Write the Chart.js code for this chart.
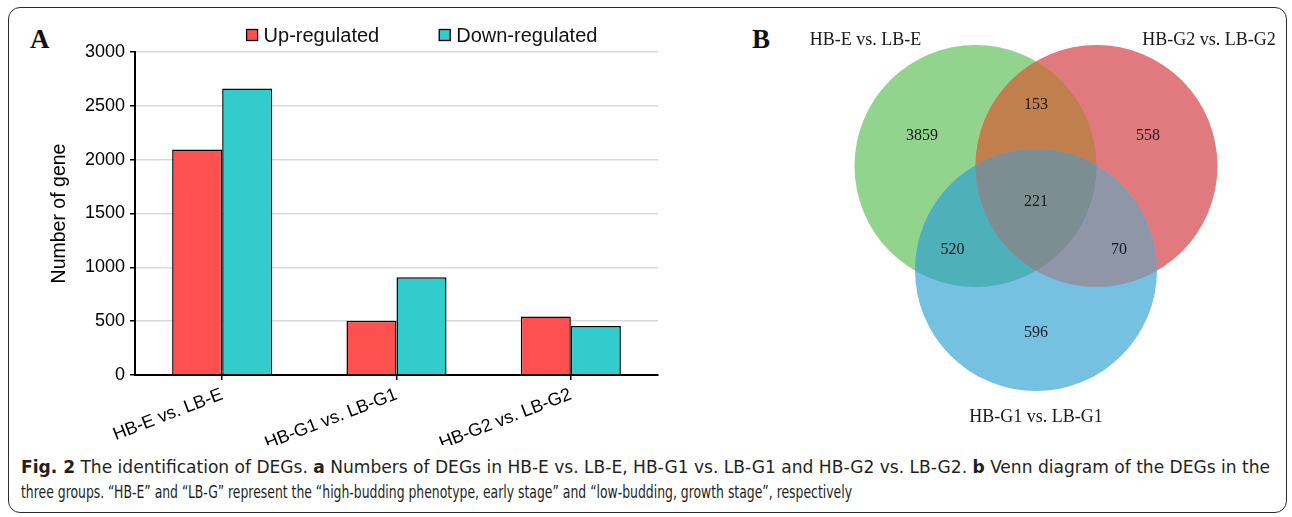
<!DOCTYPE html>
<html>
<head>
<meta charset="utf-8">
<script src="https://cdn.jsdelivr.net/npm/chart.js@4.4.1/dist/chart.umd.min.js"></script>
<style>
  html, body { margin: 0; padding: 0; background: #fff; width: 1292px; height: 517px; overflow: hidden; }
  #frame { position: absolute; left: 8px; top: 7px; width: 1279px; height: 506px; border: 1.5px solid #2b2b2b; border-radius: 12px; box-sizing: border-box; }
  #barBox { position: absolute; left: 0; top: 0; width: 700px; height: 445px; }
  #vennBox { position: absolute; left: 794px; top: 18px; width: 484px; height: 420px; }
  .panel { position: absolute; font: bold 27px "Liberation Serif", "Times New Roman", serif; color: #111; line-height: 1; }
  #caption { position: absolute; left: 21px; top: 455px; font-size: 17px; font-family: "DejaVu Sans Condensed", "Liberation Sans", sans-serif; color: #231f20; line-height: 25px; }
  #caption .line { white-space: nowrap; transform-origin: 0 50%; }
  #caption .line span { display: inline-block; }
</style>
</head>
<body>
<div id="frame"></div>
<div class="panel" style="left:30px;top:26px">A</div>
<div class="panel" style="left:752px;top:26px">B</div>
<div id="barBox"><canvas id="bar"></canvas></div>
<div id="vennBox"><canvas id="venn"></canvas></div>
<div id="caption">
  <div class="line" data-w="1249"><span><b>Fig. 2</b> The identification of DEGs. <b>a</b> Numbers of DEGs in HB-E vs. LB-E, HB-G1 vs. LB-G1 and HB-G2 vs. LB-G2. <b>b</b> Venn diagram of the DEGs in the</span></div>
  <div class="line" data-w="831"><span>three groups. “HB-E” and “LB-G” represent the “high-budding phenotype, early stage” and “low-budding, growth stage”, respectively</span></div>
</div>

<script>
// ---- panel A: bar data ----
const groups = ["HB-E vs. LB-E", "HB-G1 vs. LB-G1", "HB-G2 vs. LB-G2"];
const seriesNames = ["Up-regulated", "Down-regulated"];
const upRegulated = [2094, 503, 544];
const downRegulated = [2662, 909, 456];
const yMax = 3000;
const yStep = 500;

// ---- panel B: venn data ----
const vennSets = ["HB-E vs. LB-E", "HB-G2 vs. LB-G2", "HB-G1 vs. LB-G1"];
const vennOnly = [3859, 558, 596];        // only E, only G2, only G1
const vennPairs = [153, 520, 70];          // E&G2, E&G1, G2&G1
const vennAll = [221];

// layout for the venn (unit = circle radius)
const CIRCLES = [{ x: -0.5, y: 0.43 }, { x: 0.5, y: 0.43 }, { x: 0, y: -0.43 }];
const PAIRS = [[0, 1], [0, 2], [1, 2]];
const SET_LABEL_POS = [[-1.41, 1.47], [1.43, 1.47], [0, -1.645]];
const ONLY_POS = [[-0.942, 0.678], [0.926, 0.678], [0, -0.95]];
const PAIR_POS = [[0, 0.934], [-0.69, -0.264], [0.686, -0.264]];
const ALL_POS = [0, 0.132];

const SANS = '"Liberation Sans", Arial, sans-serif';
const SERIF = '"Liberation Serif", "Times New Roman", serif';
const UP_COLOR = "#ff5050", DOWN_COLOR = "#33cccc";
const SET_COLORS = ["#92d38e", "#e07a7e", "#76c1e2"];
const PAIR_COLORS = ["#c17f4e", "#4eb0b8", "#8e96a8"];
const ALL_COLOR = "#7c8e91";

// legend drawn at its own spot (centred over 422px like the original)
const barLegend = {
  id: "barLegend",
  afterDraw(chart) {
    const ctx = chart.ctx, sets = chart.data.datasets;
    const box = 11, gap = 6, space = 60, cx = 422, cy = 35;
    ctx.save();
    ctx.font = "20px " + SANS;
    const widths = sets.map(d => box + gap + ctx.measureText(d.label).width);
    const total = widths.reduce((a, b) => a + b, 0) + space * (sets.length - 1);
    let x = cx - total / 2;
    sets.forEach((d, i) => {
      ctx.fillStyle = d.backgroundColor;
      ctx.fillRect(x, cy - box / 2, box, box);
      ctx.strokeStyle = "#000"; ctx.lineWidth = 1.3;
      ctx.strokeRect(x, cy - box / 2, box, box);
      ctx.fillStyle = "#111"; ctx.textBaseline = "middle"; ctx.textAlign = "left";
      ctx.fillText(d.label, x + box + gap, cy + 1);
      x += widths[i] + space;
    });
    ctx.restore();
  }
};

new Chart(document.getElementById("bar"), {
  type: "bar",
  data: {
    labels: groups,
    datasets: [
      { label: seriesNames[0], data: upRegulated, backgroundColor: UP_COLOR, borderColor: "#000", borderWidth: 1.5 },
      { label: seriesNames[1], data: downRegulated, backgroundColor: DOWN_COLOR, borderColor: "#000", borderWidth: 1.5 }
    ]
  },
  options: {
    responsive: true, maintainAspectRatio: false, animation: false, events: [],
    datasets: { bar: { categoryPercentage: 0.574, barPercentage: 1 } },
    layout: { padding: { left: 45, top: 52, right: 42, bottom: 0 } },
    plugins: { legend: { display: false }, tooltip: { enabled: false } },
    scales: {
      y: {
        min: 0, max: yMax,
        ticks: { stepSize: yStep, color: "#000", font: { family: SANS, size: 18 }, padding: 5, callback: v => String(v) },
        grid: { color: "#d9d9d9", lineWidth: 1.5, tickColor: "#000", tickLength: 5 },
        border: { color: "#000", width: 2 },
        title: { display: true, text: "Number of gene", color: "#000", font: { family: SANS, size: 19.5 }, padding: { top: 3, bottom: 0 } },
        afterFit: s => { s.width = 90; }
      },
      x: {
        ticks: { color: "#000", font: { family: SANS, size: 18 }, maxRotation: 21, minRotation: 21, padding: 4 },
        grid: { drawOnChartArea: false, offset: false, tickLength: 5, tickColor: "#000", lineWidth: 1.5 },
        border: { color: "#000", width: 2 },
        afterFit: s => { s.height = 70; }
      }
    }
  },
  plugins: [barLegend]
});

// ---- venn ----
const unitPx = chart => chart.scales.x.getPixelForValue(1) - chart.scales.x.getPixelForValue(0);

const vennOverlaps = {
  id: "vennOverlaps",
  afterDatasetsDraw(chart) {
    const pts = chart.getDatasetMeta(0).data, ctx = chart.ctx, r = unitPx(chart);
    const fillInside = (idx, color) => {
      ctx.save();
      idx.forEach(i => {
        ctx.beginPath();
        ctx.arc(pts[i].x, pts[i].y, r, 0, Math.PI * 2);
        ctx.clip();
      });
      ctx.fillStyle = color;
      ctx.fillRect(0, 0, chart.width, chart.height);
      ctx.restore();
    };
    PAIRS.forEach((p, k) => fillInside(p, PAIR_COLORS[k]));
    fillInside([0, 1, 2], ALL_COLOR);
  }
};

const vennText = {
  id: "vennText",
  afterDraw(chart) {
    const ctx = chart.ctx, sx = chart.scales.x, sy = chart.scales.y;
    const put = (txt, p, size) => {
      ctx.font = size + "px " + SERIF;
      ctx.fillText(txt, sx.getPixelForValue(p[0]), sy.getPixelForValue(p[1]));
    };
    ctx.save();
    ctx.fillStyle = "#1a1a1a"; ctx.textAlign = "center"; ctx.textBaseline = "middle";
    vennSets.forEach((s, i) => put(s, SET_LABEL_POS[i], 18));
    vennOnly.forEach((v, i) => put(String(v), ONLY_POS[i], 16));
    vennPairs.forEach((v, i) => put(String(v), PAIR_POS[i], 16));
    put(String(vennAll[0]), ALL_POS, 16);
    ctx.restore();
  }
};

new Chart(document.getElementById("venn"), {
  type: "scatter",
  data: {
    datasets: [{
      data: CIRCLES.map(c => ({ x: c.x, y: c.y })),
      pointBackgroundColor: SET_COLORS,
      pointBorderWidth: 0,
      pointRadius: ctx => unitPx(ctx.chart),
      pointHoverRadius: ctx => unitPx(ctx.chart),
      showLine: false,
      clip: false
    }]
  },
  options: {
    responsive: true, maintainAspectRatio: false, animation: false, events: [],
    layout: { padding: 0, autoPadding: false },
    plugins: { legend: { display: false }, tooltip: { enabled: false } },
    scales: {
      x: { type: "linear", display: false, min: -2, max: 2 },
      y: { type: "linear", display: false, min: -1.818, max: 1.653 }
    }
  },
  plugins: [vennOverlaps, vennText]
});

// squeeze each caption line to the width it has in the original
document.querySelectorAll("#caption .line").forEach(line => {
  const w = line.firstElementChild.getBoundingClientRect().width;
  line.style.transform = "scaleX(" + (+line.dataset.w / w) + ")";
});
</script>
</body>
</html>
